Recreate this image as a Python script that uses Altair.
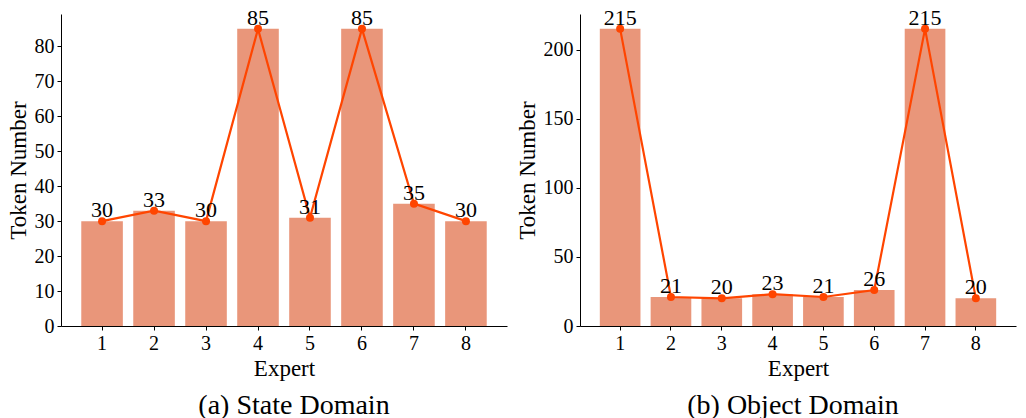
import altair as alt
import pandas as pd

# Tokens routed to each expert
experts = [1, 2, 3, 4, 5, 6, 7, 8]
state_tokens = [30, 33, 30, 85, 31, 85, 35, 30]
object_tokens = [215, 21, 20, 23, 21, 26, 215, 20]

FONT = "Liberation Serif, Times New Roman, serif"
BAR_COLOR = "#E9967A"
LINE_COLOR = "#FF4500"


def panel(values, caption, ymax, ticks, width, dx):
    df = pd.DataFrame({"Expert": experts, "Tokens": values})
    x = alt.X(
        "Expert:O",
        title="Expert",
        scale=alt.Scale(paddingInner=0.2, paddingOuter=0.39),
        axis=alt.Axis(labelAngle=0),
    )
    y = alt.Y(
        "Tokens:Q",
        title="Token Number",
        scale=alt.Scale(domain=[0, ymax], nice=False, zero=True),
        axis=alt.Axis(values=ticks),
    )
    base = alt.Chart(df).encode(x=x, y=y)
    bars = base.mark_bar(color=BAR_COLOR)
    line = base.mark_line(color=LINE_COLOR, strokeWidth=2.2)
    pts = base.mark_point(color=LINE_COLOR, filled=True, opacity=1, size=64)
    labels = base.mark_text(
        font=FONT, fontSize=22, color="black", baseline="alphabetic", dy=-4
    ).encode(text="Tokens:Q")
    return (bars + line + pts + labels).properties(
        width=width,
        height=312,
        title=alt.TitleParams(
            caption,
            orient="bottom",
            anchor="middle",
            frame="group",
            font=FONT,
            fontSize=28,
            fontWeight="normal",
            color="black",
            dx=dx,
            offset=12,
        ),
    )


left = panel(state_tokens, "(a) State Domain", 89.25, list(range(0, 90, 10)), 446, 10)
right = panel(object_tokens, "(b) Object Domain", 225.75, [0, 50, 100, 150, 200], 436, -5)

chart = (
    alt.hconcat(left, right, spacing=9)
    .properties(padding={"left": 7, "top": 6, "right": 4, "bottom": 0})
    .configure_view(stroke=None)
    .configure_axis(
        grid=False,
        domainColor="black",
        tickColor="black",
        tickSize=4,
        labelFont=FONT,
        labelFontSize=20,
        labelColor="black",
        titleFont=FONT,
        titleFontSize=23,
        titleFontWeight="normal",
        titleColor="black",
        labelPadding=3,
        titlePadding=4,
    )
)

chart.save("out.html", embed_options={"renderer": "svg", "actions": False})
